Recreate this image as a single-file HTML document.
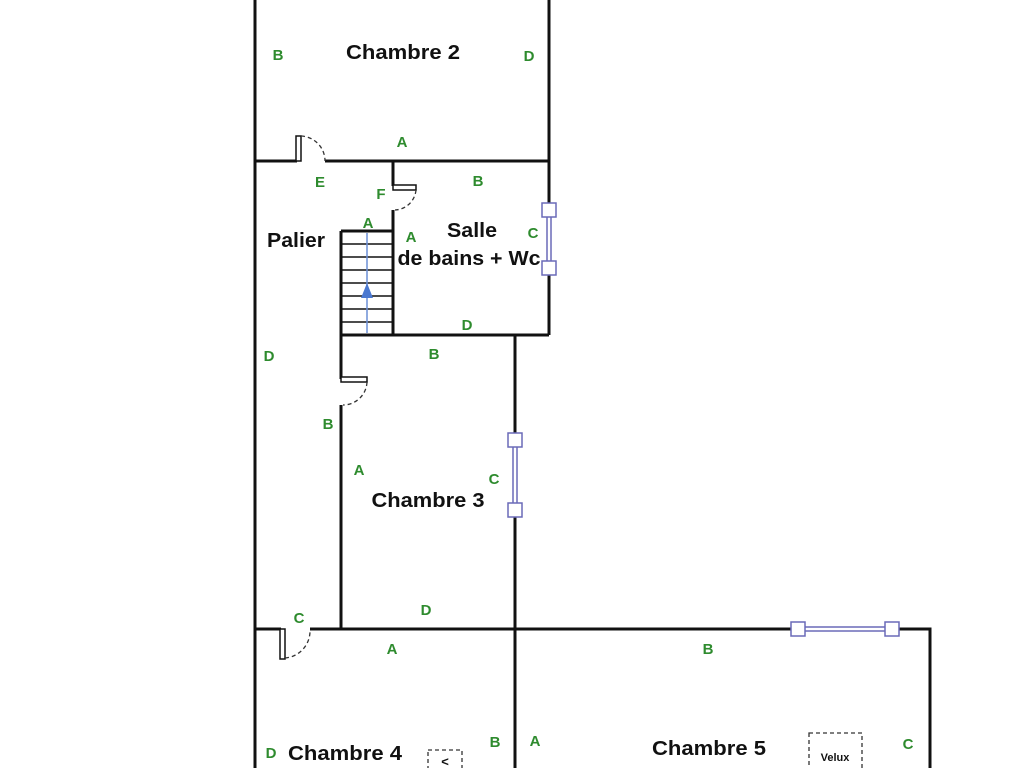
<!DOCTYPE html>
<html><head><meta charset="utf-8"><style>
html,body{margin:0;padding:0;background:#fff;width:1024px;height:768px;overflow:hidden}
svg{display:block}
.g{fill:#2e8b2e;font:bold 15px "Liberation Sans",sans-serif;text-anchor:middle}
.r{fill:#111;font:bold 20px "Liberation Sans",sans-serif;text-anchor:middle}
.w{stroke:#111;stroke-width:3;fill:none}
.t{stroke:#111;stroke-width:1.5}
.d{stroke:#333;stroke-width:1.3;fill:none;stroke-dasharray:4 3}
.win{fill:#fff;stroke:#6a6ab8;stroke-width:1.5}
</style></head><body>
<svg width="1024" height="768" viewBox="0 0 1024 768">
<path class="w" d="M255 0V768 M549 0V335 M255 161H297 M325 161H549 M393 161V186 M393 210V335 M341 231H393 M341 231V379 M341 405V629 M341 335H549 M515 335V768 M255 629H281 M310 629H930V768"/>
<g class="t">
<line x1="341" y1="244" x2="393" y2="244"/><line x1="341" y1="257" x2="393" y2="257"/>
<line x1="341" y1="270" x2="393" y2="270"/><line x1="341" y1="283" x2="393" y2="283"/>
<line x1="341" y1="296" x2="393" y2="296"/><line x1="341" y1="309" x2="393" y2="309"/>
<line x1="341" y1="322" x2="393" y2="322"/>
</g>
<line x1="367" y1="333" x2="367" y2="233" stroke="#6b8fd6" stroke-width="1.5"/>
<polygon points="367,283 361,298 373,298" fill="#4a78d0"/>
<rect x="296" y="136" width="5" height="25" fill="#fff" stroke="#111" stroke-width="1.5"/>
<path class="d" d="M301 136 A25 25 0 0 1 325 161"/>
<rect x="393" y="185" width="23" height="5" fill="#fff" stroke="#111" stroke-width="1.5"/>
<path class="d" d="M416 190 A22 22 0 0 1 395 210"/>
<rect x="341" y="377" width="26" height="5" fill="#fff" stroke="#111" stroke-width="1.5"/>
<path class="d" d="M367 382 A24 24 0 0 1 343 405"/>
<rect x="280" y="629" width="5" height="30" fill="#fff" stroke="#111" stroke-width="1.5"/>
<path class="d" d="M285 658 A27 27 0 0 0 310 631"/>
<rect x="547" y="213" width="4" height="54" class="win"/>
<rect x="542" y="203" width="14" height="14" class="win"/><rect x="542" y="261" width="14" height="14" class="win"/>
<rect x="513" y="443" width="4" height="64" class="win"/>
<rect x="508" y="433" width="14" height="14" class="win"/><rect x="508" y="503" width="14" height="14" class="win"/>
<rect x="800" y="627" width="90" height="4" class="win"/>
<rect x="791" y="622" width="14" height="14" class="win"/><rect x="885" y="622" width="14" height="14" class="win"/>
<rect x="809" y="733" width="53" height="40" class="d" stroke-dasharray="5 4"/>
<text x="835" y="761" style="font:bold 11px 'Liberation Sans',sans-serif;fill:#111" text-anchor="middle">Velux</text>
<rect x="428" y="750" width="34" height="25" class="d" stroke-dasharray="5 4"/>
<text x="445" y="766" style="font:bold 13px 'Liberation Sans',sans-serif;fill:#111" text-anchor="middle">&lt;</text>
<text class="r" x="403" y="59" textLength="114" lengthAdjust="spacingAndGlyphs">Chambre 2</text>
<text class="r" x="296" y="247" textLength="58" lengthAdjust="spacingAndGlyphs">Palier</text>
<text class="r" x="472" y="237" textLength="50" lengthAdjust="spacingAndGlyphs">Salle</text>
<text class="r" x="469" y="265" textLength="143" lengthAdjust="spacingAndGlyphs">de bains + Wc</text>
<text class="r" x="428" y="507" textLength="113" lengthAdjust="spacingAndGlyphs">Chambre 3</text>
<text class="r" x="345" y="760" textLength="114" lengthAdjust="spacingAndGlyphs">Chambre 4</text>
<text class="r" x="709" y="755" textLength="114" lengthAdjust="spacingAndGlyphs">Chambre 5</text>
<text class="g" x="278" y="60">B</text>
<text class="g" x="529" y="61">D</text>
<text class="g" x="402" y="147">A</text>
<text class="g" x="320" y="187">E</text>
<text class="g" x="381" y="199">F</text>
<text class="g" x="478" y="186">B</text>
<text class="g" x="368" y="228">A</text>
<text class="g" x="411" y="242">A</text>
<text class="g" x="533" y="238">C</text>
<text class="g" x="467" y="330">D</text>
<text class="g" x="269" y="361">D</text>
<text class="g" x="434" y="359">B</text>
<text class="g" x="328" y="429">B</text>
<text class="g" x="359" y="475">A</text>
<text class="g" x="494" y="484">C</text>
<text class="g" x="299" y="623">C</text>
<text class="g" x="426" y="615">D</text>
<text class="g" x="392" y="654">A</text>
<text class="g" x="708" y="654">B</text>
<text class="g" x="271" y="758">D</text>
<text class="g" x="495" y="747">B</text>
<text class="g" x="535" y="746">A</text>
<text class="g" x="908" y="749">C</text>
</svg>
</body></html>
